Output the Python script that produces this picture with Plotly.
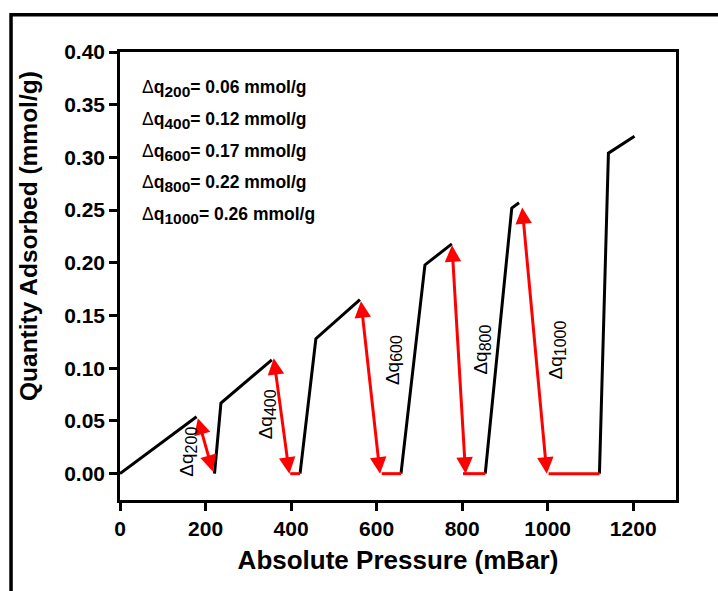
import plotly.graph_objects as go

# ---- data ----
# adsorption (black) segments, separated by None
ads_x = [0, 179, None, 221, 236, 355, None, 421, 458, 561, None,
         657, 713, 776, None, 854, 916, 933, None, 1121, 1142, 1203]
ads_y = [0, 0.054, None, 0.0, 0.067, 0.108, None, 0.0, 0.128, 0.165, None,
         0.0, 0.198, 0.218, None, 0.0, 0.252, 0.257, None, 0.0, 0.304, 0.320]

# desorption baseline (red horizontal) segments
des_x = [398, 421, None, 612, 657, None, 802, 854, None, 1002, 1121]
des_y = [0, 0, None, 0, 0, None, 0, 0, None, 0, 0]

# double arrows: top point and bottom point
arr_top_x = [181, 359, 563, 776, 940]
arr_top_y = [0.054, 0.111, 0.165, 0.218, 0.254]
arr_bot_x = [217, 396, 608, 808, 998]
arr_bot_y = [0.002, 0.0, 0.0, 0.0, 0.0]

# rotated labels
lab_names = ["200", "400", "600", "800", "1000"]
lab_x = [157, 343, 639, 846, 1021]
lab_y = [0.021, 0.056, 0.108, 0.1175, 0.1175]

# summary text
dq_steps = ["200", "400", "600", "800", "1000"]
dq_values = ["0.06", "0.12", "0.17", "0.22", "0.26"]

x_ticks = [0, 200, 400, 600, 800, 1000, 1200]
y_ticks = [0.00, 0.05, 0.10, 0.15, 0.20, 0.25, 0.30, 0.35, 0.40]

FONT = "Liberation Sans, Arial"
RED = "#ff0000"

fig = go.Figure()
fig.add_trace(go.Scatter(x=ads_x, y=ads_y, mode="lines",
                         line=dict(color="black", width=3),
                         connectgaps=False, showlegend=False, hoverinfo="skip"))
fig.add_trace(go.Scatter(x=des_x, y=des_y, mode="lines",
                         line=dict(color=RED, width=3),
                         connectgaps=False, showlegend=False, hoverinfo="skip"))

annotations = []
for tx, ty, bx, by in zip(arr_top_x, arr_top_y, arr_bot_x, arr_bot_y):
    annotations.append(dict(
        x=bx, y=by, ax=tx, ay=ty, xref="x", yref="y", axref="x", ayref="y",
        text="", showarrow=True, arrowhead=2, startarrowhead=2,
        arrowside="end+start", arrowwidth=3, arrowsize=1.1, startarrowsize=1.1,
        arrowcolor=RED, standoff=0, startstandoff=0))

for n, lx, ly in zip(lab_names, lab_x, lab_y):
    annotations.append(dict(
        x=lx, y=ly, xref="x", yref="y",
        text="Δq<sub><span style='font-size:16px'>%s</span></sub>" % n,
        showarrow=False, textangle=-90,
        font=dict(family=FONT, size=19, color="black")))

line_py = [88, 120, 152, 184, 215]
for s, v, py in zip(dq_steps, dq_values, line_py):
    annotations.append(dict(
        x=(140 - 120) / 556, y=(500 - py) / 448, xref="paper", yref="paper",
        xanchor="left", yanchor="middle",
        text="Δ<b>q<sub><span style='font-size:15.5px'>%s</span></sub>= %s mmol/g</b>" % (s, v),
        showarrow=False,
        font=dict(family=FONT, size=17.5, color="black")))

# y-axis title placed as annotation
annotations.append(dict(
    x=(28 - 120) / 556, y=(500 - 236) / 448, xref="paper", yref="paper",
    xanchor="center", yanchor="middle", textangle=-90, showarrow=False,
    text="<b>Quantity Adsorbed (mmol/g)</b>",
    font=dict(family=FONT, size=24.5, color="black")))

fig.update_layout(
    width=718, height=591,
    margin=dict(l=120, r=42, t=52, b=91),
    paper_bgcolor="white", plot_bgcolor="white",
    annotations=annotations,
    shapes=[dict(type="rect", xref="paper", yref="paper",
                 x0=-0.196, x1=1.12, y0=-0.25, y1=1.083,
                 line=dict(color="black", width=3.5), layer="above")],
    xaxis=dict(range=[0, 1300], tickvals=x_ticks, ticktext=[str(v) for v in x_ticks],
               showgrid=False, zeroline=False, showline=True, mirror=True,
               linecolor="black", linewidth=2.5, ticks="outside", ticklen=8,
               tickwidth=2.5, tickcolor="black",
               tickfont=dict(family=FONT, size=21, color="black", weight="bold"),
               title=dict(text="<b>Absolute Pressure (mBar)</b>", standoff=12,
                          font=dict(family=FONT, size=26, color="black"))),
    yaxis=dict(range=[-0.025, 0.40], tickvals=y_ticks,
               ticktext=["%.2f" % v for v in y_ticks],
               showgrid=False, zeroline=False, showline=True, mirror=True,
               linecolor="black", linewidth=2.5, ticks="outside", ticklen=8,
               tickwidth=2.5, tickcolor="black",
               tickfont=dict(family=FONT, size=21, color="black", weight="bold")),
)

fig.write_html("out.html")
